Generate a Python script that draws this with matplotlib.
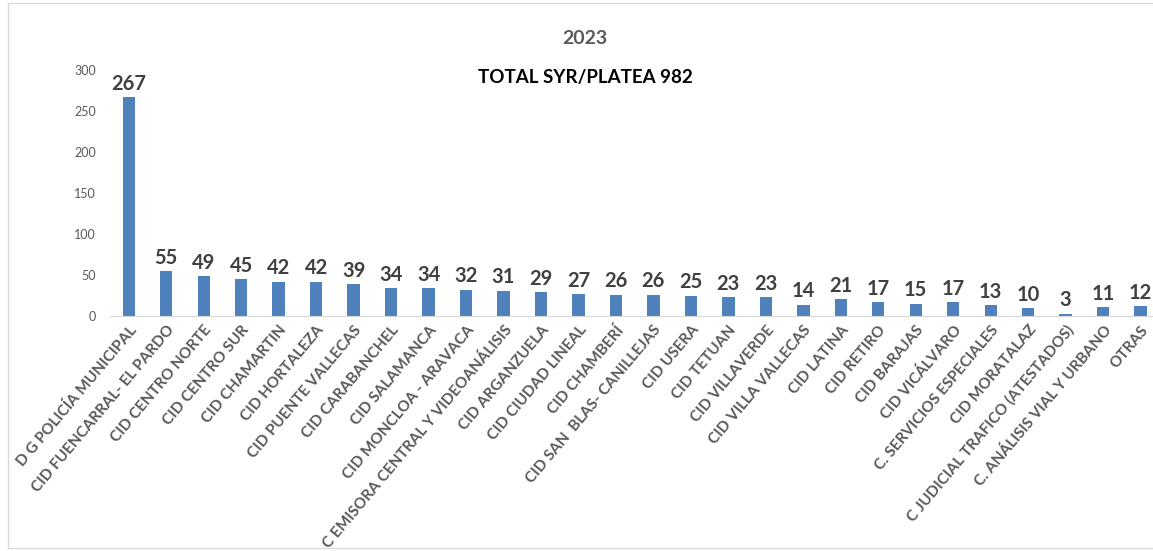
import matplotlib.pyplot as plt
from matplotlib.patches import Rectangle

# Données
categorias = [
    "D G POLICÍA MUNICIPAL", "CID FUENCARRAL- EL PARDO", "CID CENTRO NORTE",
    "CID CENTRO SUR", "CID CHAMARTIN", "CID HORTALEZA", "CID PUENTE VALLECAS",
    "CID CARABANCHEL", "CID SALAMANCA", "CID MONCLOA - ARAVACA",
    "C EMISORA CENTRAL Y VIDEOANÁLISIS", "CID ARGANZUELA", "CID CIUDAD LINEAL",
    "CID CHAMBERÍ", "CID SAN  BLAS- CANILLEJAS", "CID USERA", "CID TETUAN",
    "CID VILLAVERDE", "CID VILLA VALLECAS", "CID LATINA", "CID RETIRO",
    "CID BARAJAS", "CID VICÁLVARO", "C. SERVICIOS ESPECIALES", "CID MORATALAZ",
    "C JUDICIAL TRAFICO (ATESTADOS)", "C. ANÁLISIS VIAL Y URBANO", "OTRAS",
]
valores = [267, 55, 49, 45, 42, 42, 39, 34, 34, 32, 31, 29, 27, 26, 26, 25,
           23, 23, 14, 21, 17, 15, 17, 13, 10, 3, 11, 12]
titulo = "2023"
subtitulo = "TOTAL SYR/PLATEA 982"

plt.rcParams['font.family'] = ['Lato', 'DejaVu Sans']

fig = plt.figure(figsize=(11.53, 5.51), dpi=100)
ax = fig.add_axes([110 / 1153, (551 - 316) / 551, 1043 / 1153, 246 / 551])

x = list(range(len(valores)))
ax.bar(x, valores, width=0.33, color="#4f81bd")

for xi, v in zip(x, valores):
    ax.text(xi, v + 4, str(v), ha="center", va="bottom", fontsize=14.5,
            fontweight="bold", color="#404040", clip_on=False)

ax.set_xlim(-0.5, 27.33)
ax.set_ylim(0, 300)
ax.set_yticks(range(0, 301, 50))
ax.tick_params(axis="y", length=0, labelsize=9, labelcolor="#595959", pad=10)
ax.tick_params(axis="x", length=0, pad=5)
ax.set_xticks(x)
ax.set_xticklabels(categorias, rotation=50, ha="right", rotation_mode="anchor",
                   fontsize=11, fontweight="bold", color="#595959")

for s in ["top", "right", "left"]:
    ax.spines[s].set_visible(False)
ax.spines["bottom"].set_color("#d9d9d9")

fig.text(585 / 1153, 1 - 38 / 551, titulo, ha="center", va="center",
         fontsize=14, fontweight="bold", color="#595959")
fig.text(585 / 1153, 1 - 78 / 551, subtitulo, ha="center", va="center",
         fontsize=13.5, fontweight="bold", color="black")

# cadre
fig.patches.append(Rectangle((8 / 1153, 0.005), 1.2, 0.99, transform=fig.transFigure,
                             fill=False, edgecolor="#d9d9d9", linewidth=1))

fig.savefig("out.png", dpi=100)
